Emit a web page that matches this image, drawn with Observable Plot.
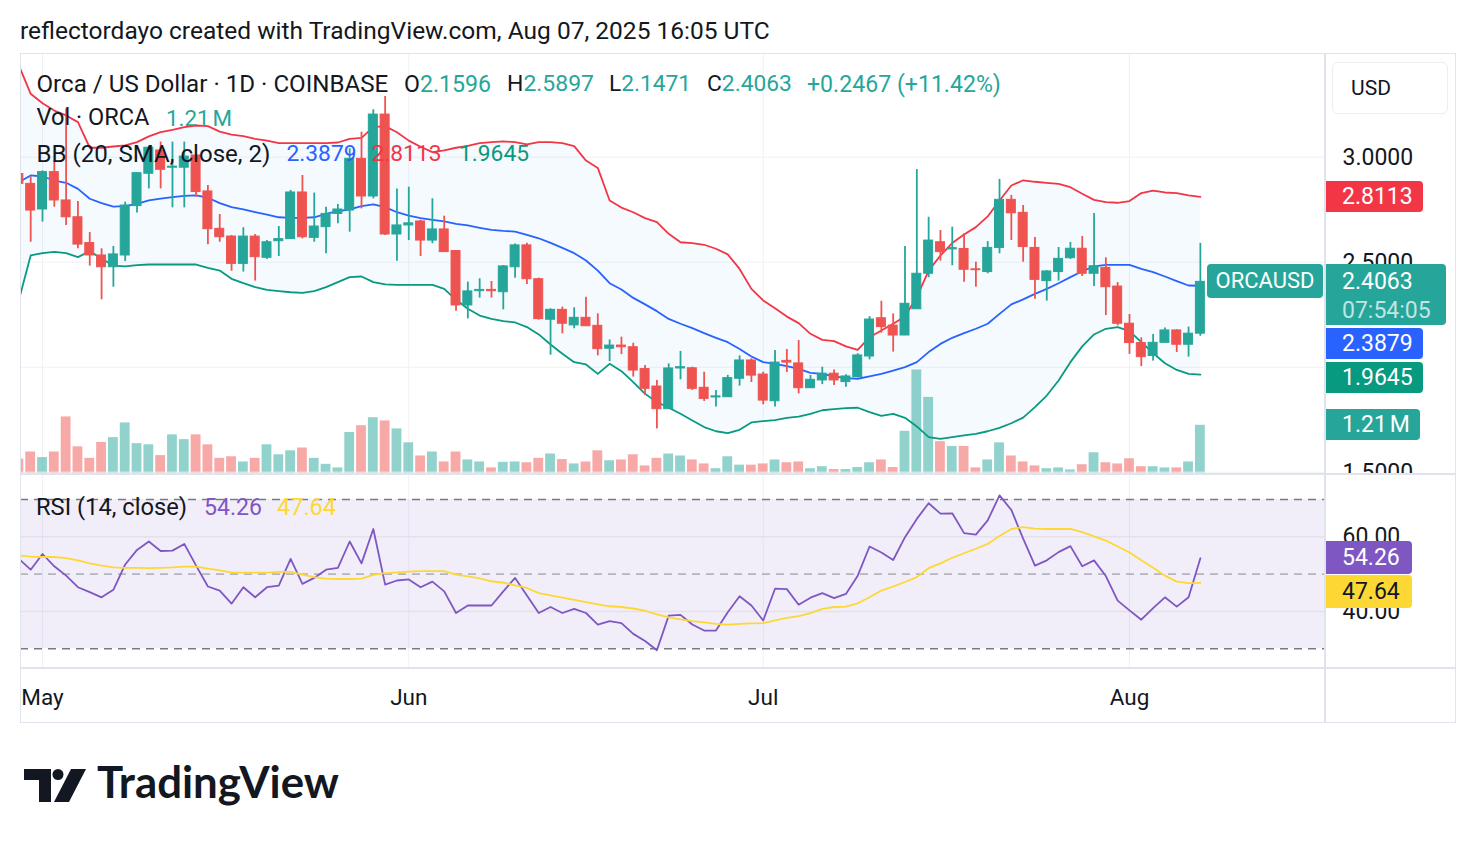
<!DOCTYPE html>
<html><head><meta charset="utf-8">
<script src="https://cdn.jsdelivr.net/npm/d3@7"></script>
<script src="https://cdn.jsdelivr.net/npm/@observablehq/plot@0.6"></script>
<style>
html,body{margin:0;padding:0;background:#fff;}
#root{position:relative;width:1476px;height:844px;overflow:hidden;background:#fff;font-family:Roboto,"Noto Sans",sans-serif;color:#131722;}
.pane{position:absolute;left:0;width:1476px;overflow:hidden;}
.pane svg{position:absolute;left:0;top:0;}
.t{position:absolute;white-space:nowrap;line-height:1;}
.box{position:absolute;}
</style></head><body><div id="root"></div>
<script>
// ---------------- DATA ----------------
const firstDay = "2025-04-29", lastDay = "2025-08-07";
const open = [2.92,2.873,2.751,2.929,2.794,2.714,2.591,2.532,2.476,2.532,2.767,2.921,3.032,2.95,2.95,3.008,2.837,2.659,
2.622,2.492,2.622,2.521,2.6,2.61,2.832,2.616,2.667,2.73,2.746,2.992,2.813,3.203,2.632,2.675,
2.694,2.603,2.656,2.553,2.294,2.362,2.368,2.357,2.476,2.58,2.419,2.226,2.273,2.199,2.235,2.197,2.088,2.103,
2.095,1.991,1.908,1.8,1.994,1.995,1.902,1.856,1.857,1.945,2.032,1.965,1.838,2.03,2.018,1.9,1.937,
1.969,1.929,1.953,2.051,2.233,2.198,2.151,2.276,2.445,2.595,2.561,2.563,2.466,2.453,2.568,2.797,2.735,
2.568,2.41,2.453,2.519,2.564,2.445,2.473,2.384,2.207,2.115,2.053,2.116,2.175,2.107,2.1596];
const high = [2.95,2.905,2.935,2.984,3.23,2.789,2.641,2.564,2.575,2.786,2.925,3.05,3.072,3.072,3.072,3.01,2.865,2.727,
2.627,2.664,2.632,2.603,2.67,2.842,2.913,2.829,2.762,2.775,3.04,3.119,3.226,3.289,2.849,2.857,
2.7,2.802,2.719,2.556,2.405,2.421,2.408,2.484,2.587,2.59,2.424,2.278,2.286,2.283,2.333,2.254,2.13,2.143,
2.114,2.008,1.937,2.016,2.075,2.0,1.976,1.889,1.961,2.054,2.04,1.976,2.08,2.084,2.127,1.961,2.0,
1.987,1.964,2.064,2.241,2.314,2.254,2.575,2.941,2.714,2.651,2.667,2.635,2.5,2.598,2.894,2.818,2.77,
2.618,2.46,2.57,2.594,2.622,2.732,2.521,2.403,2.251,2.14,2.156,2.187,2.178,2.191,2.5897];
const low = [2.85,2.595,2.691,2.762,2.675,2.564,2.481,2.321,2.381,2.503,2.734,2.849,2.849,2.759,2.759,2.81,2.583,2.595,
2.457,2.453,2.41,2.513,2.527,2.61,2.611,2.595,2.54,2.683,2.643,2.754,2.802,2.627,2.505,2.603,
2.527,2.588,2.548,2.267,2.23,2.329,2.329,2.273,2.424,2.394,2.224,2.057,2.159,2.183,2.195,2.054,2.027,2.06,
1.953,1.865,1.706,1.8,1.94,1.889,1.837,1.81,1.857,1.91,1.927,1.821,1.81,1.975,1.873,1.9,1.917,
1.913,1.905,1.949,2.035,2.162,2.072,2.151,2.276,2.426,2.505,2.483,2.405,2.381,2.445,2.54,2.603,2.5,
2.324,2.315,2.41,2.513,2.432,2.384,2.246,2.197,2.061,2.003,2.029,2.116,2.07,2.048,2.1471];
const close = [2.873,2.746,2.929,2.794,2.714,2.584,2.532,2.476,2.537,2.77,2.924,3.045,2.94,2.955,3.003,2.834,2.657,2.619,
2.492,2.622,2.524,2.595,2.61,2.832,2.619,2.67,2.73,2.751,2.992,2.813,3.203,2.632,2.675,2.685,
2.603,2.656,2.548,2.294,2.361,2.368,2.362,2.48,2.58,2.419,2.229,2.273,2.207,2.235,2.195,2.086,2.103,2.095,
1.984,1.897,1.8,1.994,2.0,1.897,1.849,1.861,1.948,2.032,1.96,1.841,2.022,2.022,1.9,1.94,1.969,
1.937,1.956,2.056,2.227,2.191,2.151,2.302,2.445,2.603,2.548,2.567,2.464,2.462,2.568,2.797,2.733,2.572,
2.416,2.456,2.516,2.564,2.445,2.481,2.381,2.207,2.115,2.048,2.116,2.175,2.107,2.1596,2.4063];
const volumeM = [0.36,0.54,0.40,0.54,1.42,0.67,0.38,0.78,0.90,1.27,0.75,0.72,0.45,0.97,0.85,0.97,0.72,0.38,
0.42,0.29,0.38,0.72,0.47,0.57,0.64,0.38,0.23,0.14,1.03,1.20,1.40,1.32,1.12,0.77,
0.44,0.54,0.29,0.54,0.34,0.29,0.14,0.28,0.29,0.27,0.38,0.49,0.35,0.24,0.29,0.57,0.32,0.34,
0.47,0.19,0.38,0.49,0.44,0.34,0.24,0.12,0.42,0.21,0.21,0.24,0.34,0.27,0.29,0.12,0.17,
0.10,0.10,0.15,0.27,0.34,0.15,1.06,2.60,1.91,0.80,0.68,0.68,0.14,0.34,0.77,0.44,0.29,
0.19,0.12,0.14,0.09,0.22,0.52,0.27,0.24,0.37,0.17,0.17,0.14,0.14,0.29,1.21];
const bbUpper = [3.437,3.302,3.257,3.222,3.199,3.167,3.045,3.045,3.051,3.056,3.072,3.099,3.119,3.13,3.143,3.151,3.148,3.122,
3.108,3.1,3.087,3.079,3.067,3.067,3.067,3.067,3.067,3.07,3.087,3.092,3.143,3.148,3.119,3.079,
3.05,3.024,3.032,3.045,3.054,3.067,3.072,3.075,3.072,3.061,3.072,3.072,3.067,3.053,2.984,2.949,2.794,2.76,
2.738,2.71,2.691,2.635,2.595,2.591,2.583,2.564,2.537,2.468,2.373,2.318,2.281,2.241,2.21,2.159,2.13,
2.124,2.099,2.083,2.143,2.175,2.207,2.241,2.334,2.46,2.532,2.591,2.632,2.667,2.718,2.794,2.865,2.89,
2.883,2.878,2.873,2.857,2.826,2.797,2.786,2.783,2.791,2.829,2.841,2.832,2.829,2.818,2.8113];
const bbBasis = [2.881,2.913,2.908,2.889,2.878,2.849,2.802,2.781,2.765,2.767,2.778,2.794,2.803,2.81,2.816,2.818,2.807,2.781,
2.762,2.751,2.738,2.726,2.714,2.711,2.711,2.714,2.73,2.743,2.751,2.767,2.775,2.762,2.738,2.722,
2.71,2.702,2.694,2.683,2.675,2.664,2.654,2.649,2.646,2.63,2.614,2.592,2.568,2.543,2.508,2.46,2.4,2.37,
2.33,2.299,2.267,2.23,2.207,2.186,2.162,2.14,2.119,2.087,2.051,2.024,2.016,2.005,1.992,1.973,1.968,
1.956,1.948,1.945,1.956,1.968,1.984,2.0,2.024,2.072,2.111,2.14,2.162,2.183,2.207,2.254,2.299,2.323,
2.349,2.373,2.4,2.429,2.457,2.48,2.487,2.487,2.487,2.468,2.453,2.432,2.41,2.389,2.3879];
const bbLower = [2.32,2.532,2.543,2.549,2.543,2.524,2.553,2.516,2.484,2.48,2.486,2.489,2.489,2.489,2.489,2.489,2.473,2.46,
2.421,2.4,2.381,2.368,2.362,2.357,2.354,2.362,2.381,2.405,2.429,2.432,2.405,2.394,2.392,2.392,
2.392,2.392,2.373,2.321,2.278,2.246,2.23,2.219,2.213,2.191,2.156,2.108,2.064,2.024,2.013,1.968,2.016,1.981,
1.929,1.873,1.834,1.807,1.778,1.746,1.715,1.695,1.686,1.702,1.737,1.743,1.748,1.759,1.765,1.778,1.795,
1.8,1.805,1.807,1.786,1.768,1.778,1.759,1.718,1.667,1.659,1.667,1.675,1.683,1.695,1.711,1.733,1.76,
1.81,1.865,1.937,2.024,2.099,2.156,2.183,2.191,2.172,2.119,2.067,2.019,1.987,1.968,1.9645];
const rsi = [54.1,51.2,55.4,52.1,49.6,46.5,45.2,43.8,45.8,52.6,56.5,58.75,56.2,56.3,58.1,52.3,46.7,45.6,
42.1,46.5,43.8,46.5,46.9,54.1,47.4,49.0,51.2,51.7,58.75,52.9,62.1,47.2,48.3,48.6,
46.5,48.0,45.4,39.6,41.6,41.6,41.6,45.4,49.0,44.3,39.6,41.2,39.6,40.7,39.6,36.5,37.4,36.9,
34.0,32.1,29.6,38.9,39.1,36.5,34.9,34.9,39.8,44.1,41.6,37.6,46.1,46.0,41.8,43.7,44.9,
43.6,44.7,49.6,57.4,55.8,53.8,59.9,64.8,69.0,66.2,66.3,61.0,60.6,64.4,71.1,67.2,59.5,
52.3,53.7,55.9,57.5,52.1,53.7,49.5,42.9,40.3,37.8,40.9,43.8,41.3,43.8,54.26];
const rsiMa = [55.0,54.7,54.6,54.6,54.3,53.7,52.9,52.3,51.8,51.7,51.7,51.6,51.7,51.8,52.0,52.0,51.5,51.0,
50.5,50.4,50.4,50.4,50.6,50.6,49.9,49.2,48.8,48.7,48.7,48.8,49.8,50.3,50.5,50.7,
50.8,50.8,50.8,49.9,49.4,48.9,48.1,47.7,47.0,46.3,44.9,44.3,43.7,43.1,42.5,41.9,41.4,41.2,
40.8,40.2,39.2,38.4,37.9,37.4,37.1,36.7,36.5,36.7,36.8,36.9,37.6,38.3,38.75,39.55,40.7,
41.2,41.3,42.2,43.8,45.6,46.7,47.9,49.2,51.6,52.9,54.4,55.6,56.8,58.1,60.2,62.1,62.6,
62.2,62.1,62.1,62.1,61.25,60.1,59.0,57.4,55.8,53.7,51.7,49.6,48.0,47.6,47.64];
const monthTickDays = ["2025-05-01","2025-06-01","2025-07-01","2025-08-01"];
const priceTicks = [1.5, 2.0, 2.5, 3.0];
const rsiTicks = [40, 60];
const rsiBand = [30, 70];
const rsiMid = [50];
const countdown = "07:54:05";

// ---------------- SETUP ----------------
const FONT = "Roboto, 'Noto Sans', sans-serif";
const DARK = "#131722", UPC = "#26a69a", DNC = "#ef5350";
const GRID = "#f0f1f4", BORDER = "#e0e3eb";
const DAY = 864e5;
const dates = d3.utcDay.range(new Date(firstDay), d3.utcDay.offset(new Date(lastDay), 1));
const series = [open, high, low, close, volumeM, bbUpper, bbBasis, bbLower, rsi, rsiMa];
series.forEach((s, k) => { if (s.length !== dates.length) throw new Error("length mismatch in series " + k + ": " + s.length + " vs " + dates.length); });
const rows = dates.map((date, i) => ({date, open: open[i], high: high[i], low: low[i], close: close[i], vol: volumeM[i],
  upper: bbUpper[i], basis: bbBasis[i], lower: bbLower[i], rsi: rsi[i], rsiMa: rsiMa[i]}));
const last = rows.length - 1;
const isUp = d => d.close >= d.open;
const cCol = d => isUp(d) ? UPC : DNC;
const vCol = d => isUp(d) ? "rgba(38,166,154,0.5)" : "rgba(239,83,80,0.5)";
const shift = (dt, k) => new Date(+dt + k * DAY);
const monthTicks = monthTickDays.map(s => new Date(s));
const may1 = +new Date("2025-05-01");
const xDomain = [new Date(may1 - 1.862 * DAY), new Date(may1 + 108.59 * DAY)];
const fmt4 = d3.format(".4f"), fmt2 = d3.format(".2f");

const root = document.getElementById("root");
function pane(top, height) {
  const d = document.createElement("div"); d.className = "pane";
  d.style.top = top + "px"; d.style.height = height + "px"; root.appendChild(d); return d;
}
const common = {width: 1476, marginLeft: 20, marginRight: 151, marginTop: 0, marginBottom: 0,
  style: {background: "transparent", fontFamily: FONT, color: DARK}, color: {type: "identity"}};
const xOpt = {type: "utc", domain: xDomain, axis: null};

// ---- main pane (price + volume) : y 54 .. 474
const MAIN_TOP = 54, MAIN_H = 420;
const pricePxPerUnit = 210, price3px = 156.7;
const priceDomain = [3 - (MAIN_TOP + MAIN_H - price3px) / pricePxPerUnit, 3 + (price3px - MAIN_TOP) / pricePxPerUnit];
const mainPane = pane(MAIN_TOP, MAIN_H);

const volPlot = Plot.plot({...common, height: MAIN_H, marginBottom: 1, x: xOpt, y: {domain: [0, 10.52], axis: null},
  marks: [
    Plot.ruleX(monthTicks, {stroke: GRID, strokeWidth: 1}),
    Plot.rect(rows, {x1: d => shift(d.date, -0.415), x2: d => shift(d.date, 0.415), y1: () => 0, y2: "vol", fill: vCol, clip: true})
  ]});
mainPane.appendChild(volPlot);

const mainPlot = Plot.plot({...common, height: MAIN_H, x: xOpt, y: {domain: priceDomain, axis: null},
  marks: [
    Plot.ruleY(priceTicks, {stroke: GRID, strokeWidth: 1}),
    Plot.areaY(rows, {x: "date", y1: "lower", y2: "upper", fill: "#2196f3", fillOpacity: 0.05, clip: true}),
    Plot.line(rows, {x: "date", y: "upper", stroke: "#f23645", strokeWidth: 1.8, clip: true}),
    Plot.line(rows, {x: "date", y: "basis", stroke: "#2962ff", strokeWidth: 1.8, clip: true}),
    Plot.line(rows, {x: "date", y: "lower", stroke: "#089981", strokeWidth: 1.8, clip: true}),
    Plot.ruleX(rows, {x: "date", y1: "low", y2: "high", stroke: cCol, strokeWidth: 1.8, clip: true}),
    Plot.rect(rows, {x1: d => shift(d.date, -0.38), x2: d => shift(d.date, 0.38), y1: "open", y2: "close", fill: cCol, stroke: cCol, strokeWidth: 1, clip: true})
  ]});
mainPane.appendChild(mainPlot);

// ---- RSI pane : y 474 .. 668
const RSI_TOP = 474, RSI_H = 194;
const rsiPx = 3.733, rsi70px = 499;
const rsiDomain = [30 - (RSI_TOP + RSI_H - (rsi70px + 40 * rsiPx)) / rsiPx, 70 + (rsi70px - RSI_TOP) / rsiPx];
const rsiPane = pane(RSI_TOP, RSI_H);
const rsiPlot = Plot.plot({...common, height: RSI_H, x: xOpt, y: {domain: rsiDomain},
  marks: [
    Plot.ruleX(monthTicks, {stroke: GRID, strokeWidth: 1}),
    Plot.areaY(xDomain, {x: d => d, y1: () => rsiBand[0], y2: () => rsiBand[1], fill: "#7e57c2", fillOpacity: 0.1}),
    Plot.ruleY(rsiTicks, {stroke: "#e4e1ec", strokeWidth: 1.5}),
    Plot.ruleY(rsiBand, {stroke: "#787b86", strokeWidth: 1.6, strokeDasharray: "8,6"}),
    Plot.ruleY(rsiMid, {stroke: "#787b86", strokeOpacity: 0.5, strokeWidth: 1.6, strokeDasharray: "8,6"}),
    Plot.line(rows, {x: "date", y: "rsi", stroke: "#7e57c2", strokeWidth: 1.8, clip: true}),
    Plot.line(rows, {x: "date", y: "rsiMa", stroke: "#fdd835", strokeWidth: 1.8, clip: true}),
    Plot.axisY(rsiTicks, {anchor: "right", tickSize: 0, tickPadding: 17, tickFormat: fmt2, fontSize: 23, label: null, fill: DARK})
  ]});
rsiPane.appendChild(rsiPlot);

// ---- time axis : y 668 .. 723
const timePane = pane(668, 55);
timePane.appendChild(Plot.plot({...common, height: 55, x: xOpt,
  marks: [Plot.text(monthTicks, {x: d => d, text: d => d3.utcFormat("%b")(d), frameAnchor: "middle", fontSize: 22.5, dy: 2, fill: DARK})]}));

// ---------------- frame lines ----------------
function line(x, y, w, h, c) {
  const d = document.createElement("div"); d.className = "box";
  Object.assign(d.style, {left: x + "px", top: y + "px", width: w + "px", height: h + "px", background: c || BORDER});
  root.appendChild(d);
}
line(20, 53, 1436, 1); line(20, 53, 1, 670); line(1455, 53, 1, 670); line(20, 722, 1436, 1);
line(20, 473, 1436, 2); line(20, 667, 1436, 2); line(1324, 53, 2, 670);

// ---------------- text helpers ----------------
function addText(parts, x, cy, opts = {}) {
  const el = document.createElement("div"); el.className = "t";
  for (const [s, c] of parts) { const sp = document.createElement("span"); sp.textContent = s; sp.style.color = c; el.appendChild(sp); }
  let size = opts.size || 22;
  el.style.fontSize = size + "px";
  if (opts.weight) el.style.fontWeight = opts.weight;
  if (opts.family) el.style.fontFamily = opts.family;
  (opts.parent || root).appendChild(el);
  if (opts.width) { const w = el.getBoundingClientRect().width; size = size * opts.width / w; el.style.fontSize = size + "px"; }
  const w2 = el.getBoundingClientRect().width;
  el.style.left = (opts.align === "center" ? x - w2 / 2 : x) + "px";
  el.style.top = (cy - size * (opts.k || 0.5)) + "px";
  return el;
}
function addBox(x, y, w, h, bg, radius, border) {
  const d = document.createElement("div"); d.className = "box";
  Object.assign(d.style, {left: x + "px", top: y + "px", width: w + "px", height: h + "px", background: bg, borderRadius: radius || "0 4px 4px 0"});
  if (border) { d.style.border = border; d.style.boxSizing = "border-box"; }
  root.appendChild(d); return d;
}

// header
addText([["reflectordayo created with TradingView.com, Aug 07, 2025 16:05 UTC", DARK]], 20, 31, {width: 750});

// legend
const L = rows[last], P = rows[last - 1];
const chg = L.close - P.close;
addText([["Orca / US Dollar · 1D · COINBASE", DARK]], 36.5, 84.5, {width: 352});
addText([["O", DARK], [fmt4(L.open), UPC]], 404, 84.5, {width: 87});
addText([["H", DARK], [fmt4(L.high), UPC]], 507, 84.5, {width: 87});
addText([["L", DARK], [fmt4(L.low), UPC]], 609, 84.5, {width: 82});
addText([["C", DARK], [fmt4(L.close), UPC]], 707, 84.5, {width: 85});
addText([[(chg >= 0 ? "+" : "") + fmt4(chg) + " (" + (chg >= 0 ? "+" : "") + fmt2(chg / P.close * 100) + "%)", UPC]], 807, 84.5, {width: 194});
addText([["Vol · ORCA", DARK]], 36.5, 118, {width: 113});
addText([[fmt2(L.vol) + "\u202fM", UPC]], 166, 118, {width: 66});
addText([["BB (20, SMA, close, 2)", DARK]], 36.5, 154, {width: 234});
addText([[fmt4(L.basis), "#2962ff"]], 286.5, 154, {width: 70});
addText([[fmt4(L.upper), "#f23645"]], 371.5, 154, {width: 70});
addText([[fmt4(L.lower), "#089981"]], 459, 154, {width: 70});
addText([["RSI (14, close)", DARK]], 36, 508, {width: 151});
addText([[fmt2(L.rsi), "#7e57c2"]], 204, 508, {width: 58});
addText([[fmt2(L.rsiMa), "#fdd835"]], 277, 508, {width: 59});

// USD box
addBox(1332, 62, 116, 52, "#fff", "6px", "1px solid #eceef2");
addText([["USD", DARK]], 1351, 88, {width: 40});

// ---------------- right-hand value labels (positions from the plot scales) ----------------
const yP = v => MAIN_TOP + mainPlot.scale("y").apply(v);
const yV = v => MAIN_TOP + volPlot.scale("y").apply(v);
const yR = v => RSI_TOP + rsiPlot.scale("y").apply(v);
function stack(items, gap) {
  items.sort((a, b) => a.center - b.center);
  let prev = -Infinity;
  for (const it of items) { let top = it.center - it.anchor; if (top < prev + gap) top = prev + gap; it.top = top; prev = top + it.h; }
  return items;
}
const priceLabels = stack([
  {center: yP(L.upper), anchor: 15.5, h: 31, w: 97, bg: "#f23645", lines: [[fmt4(L.upper), "#fff"]]},
  {center: yP(L.close), anchor: 17, h: 61, w: 120, bg: UPC, lines: [[fmt4(L.close), "#fff"], [countdown, "rgba(255,255,255,0.72)"]], main: true},
  {center: yP(L.basis), anchor: 15.5, h: 31, w: 97, bg: "#2962ff", lines: [[fmt4(L.basis), "#fff"]]},
  {center: yP(L.lower), anchor: 15.5, h: 31, w: 97, bg: "#089981", lines: [[fmt4(L.lower), "#fff"]]},
  {center: yV(L.vol), anchor: 15.5, h: 31, w: 94, bg: UPC, lines: [[fmt2(L.vol) + "\u202fM", "#fff"]]}
], 3);

// price axis: tick labels that sit inside a value label are hidden (as in TradingView)
const shownPriceTicks = priceTicks.filter(v => !priceLabels.some(it => yP(v) > it.top + 2 && yP(v) < it.top + it.h - 2));
mainPane.appendChild(Plot.plot({...common, height: MAIN_H, x: xOpt, y: {domain: priceDomain},
  marks: [Plot.axisY(shownPriceTicks, {anchor: "right", tickSize: 0, tickPadding: 17, tickFormat: fmt4, fontSize: 23, label: null, fill: DARK})]}));

for (const it of priceLabels) {
  addBox(1326, it.top, it.w, it.h, it.bg);
  it.lines.forEach((ln, j) => addText([ln], 1342, it.top + (j === 0 ? it.anchor : 46), {size: 23}));
  if (it.main) {
    addBox(1207, it.top, 116, 34, UPC, "4px");
    addText([["ORCAUSD", "#fff"]], 1265, it.top + 17, {size: 22, align: "center"});
  }
}
const rsiLabels = stack([
  {center: yR(L.rsi), anchor: 16.5, h: 33, w: 86, bg: "#7e57c2", fg: "#fff", text: fmt2(L.rsi)},
  {center: yR(L.rsiMa), anchor: 16.5, h: 33, w: 86, bg: "#fdd835", fg: DARK, text: fmt2(L.rsiMa)}
], 1);
for (const it of rsiLabels) {
  addBox(1326, it.top, it.w, it.h, it.bg);
  addText([[it.text, it.fg]], 1342, it.top + it.anchor, {size: 23});
}

// ---------------- TradingView logo ----------------
const logo = document.createElementNS("http://www.w3.org/2000/svg", "svg");
logo.setAttribute("width", "100"); logo.setAttribute("height", "60");
Object.assign(logo.style, {position: "absolute", left: "0px", top: "755px"});
logo.innerHTML = '<g fill="#131722" transform="translate(0,-755)"><path d="M24 769H51V802H39V780H24Z"/><circle cx="58" cy="774.5" r="5.5"/><path d="M71 769H86L69 802H54Z"/></g>';
root.appendChild(logo);
addText([["TradingView", "#131722"]], 97, 782, {width: 242, weight: 700, family: "Lato, Inter, sans-serif"});
</script>
</body></html>
